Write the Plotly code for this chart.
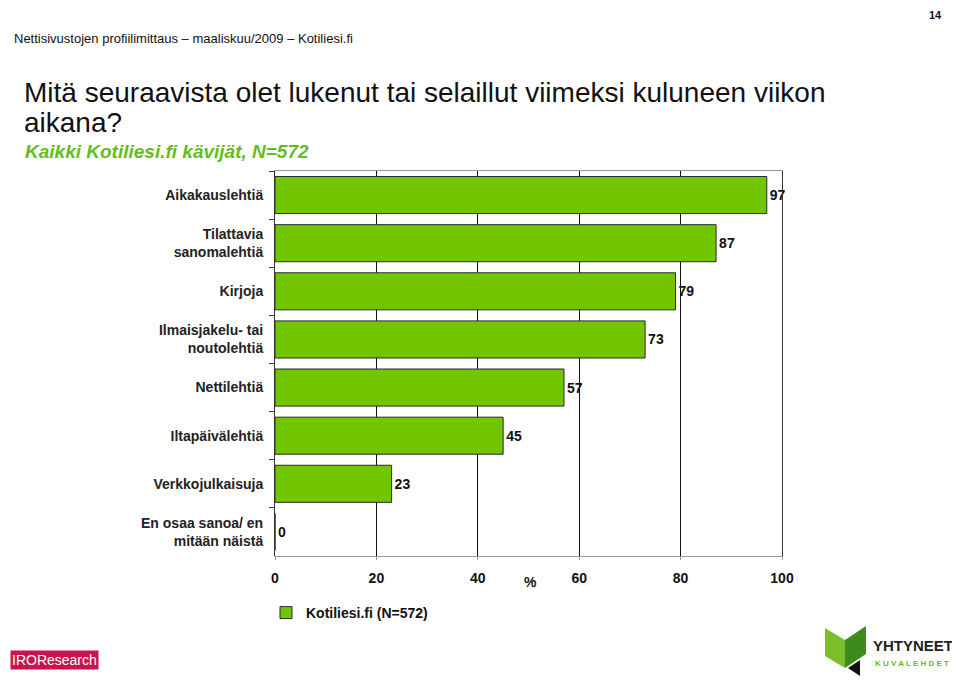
import plotly.graph_objects as go

categories = ['Aikakauslehtiä', 'Tilattavia<br>sanomalehtiä', 'Kirjoja',
              'Ilmaisjakelu- tai<br>noutolehtiä', 'Nettilehtiä',
              'Iltapäivälehtiä', 'Verkkojulkaisuja',
              'En osaa sanoa/ en<br>mitään näistä']
values = [97, 87, 79, 73, 57, 45, 23, 0]
series_name = 'Kotiliesi.fi (N=572)'
x_ticks = [0, 20, 40, 60, 80, 100]

FONT = 'Liberation Sans, Arial, sans-serif'
GREEN = '#72c600'

# page body has an 8px margin, so the figure is drawn 8px in from the corner
OFF = 8
W, H = 960 - OFF, 684 - OFF
# plot area in screen pixels
L, R, T, B = 275, 782, 171, 556


def px(x):
    return (x - L) / (R - L)


def py(y):
    return (B - y) / (B - T)


fig = go.Figure()
fig.add_trace(go.Bar(
    name='<b>%s</b>' % series_name,
    y=['<b>%s</b>' % c for c in categories],
    x=values,
    orientation='h',
    marker=dict(color=GREEN, line=dict(color='#2a2a2a', width=1)),
    text=['<b>%d</b>' % v for v in values],
    textposition='outside',
    textfont=dict(family=FONT, size=14, color='#111'),
    cliponaxis=False,
    showlegend=True,
))

fig.update_layout(
    width=W, height=H,
    margin=dict(l=L - OFF, r=W - (R - OFF), t=T - OFF, b=H - (B - OFF)),
    paper_bgcolor='white', plot_bgcolor='white',
    bargap=0.23,
    font=dict(family=FONT, color='#111'),
    legend=dict(x=px(266), y=py(613), xanchor='left', yanchor='middle',
                font=dict(family=FONT, size=14, color='#111'),
                itemwidth=30, bgcolor='rgba(0,0,0,0)'),
)
fig.update_xaxes(range=[0, 100], tickvals=x_ticks,
                 ticktext=['<b>%d</b>' % t for t in x_ticks],
                 tickfont=dict(family=FONT, size=14, color='#111'),
                 showgrid=True, gridcolor='#111', gridwidth=1,
                 zeroline=False, showline=True, linecolor='#999',
                 linewidth=1, mirror=True, ticks='outside', ticklen=3,
                 tickcolor='#999', ticklabelstandoff=6)
fig.update_yaxes(autorange='reversed', tickson='boundaries',
                 ticks='outside', ticklen=5, tickcolor='#333',
                 showgrid=False, showline=True, linecolor='#333',
                 linewidth=1, mirror=True,
                 tickfont=dict(family=FONT, size=14, color='#222'),
                 ticklabelstandoff=8)


def note(text, x, y, size, color='#111', xanchor='left', **kw):
    fig.add_annotation(text=text, x=px(x), y=py(y), xref='paper', yref='paper',
                       xanchor=xanchor, yanchor='middle', showarrow=False,
                       font=dict(family=FONT, size=size, color=color), **kw)


note('<b>%</b>', 530, 582, 14, xanchor='center')
note('<b>14</b>', 944, 15, 11, xanchor='right')
note('Nettisivustojen profiilimittaus – maaliskuu/2009 – Kotiliesi.fi',
     12, 38, 13)
note('Mitä seuraavista olet lukenut tai selaillut viimeksi kuluneen viikon',
     22, 93, 28)
note('aikana?', 22, 122, 28)
note('<b><i>Kaikki Kotiliesi.fi kävijät, N=572</i></b>', 23, 151, 19,
     color='#62bd1e')
note('IROResearch', 10, 660, 14, color='white', bgcolor='#c8144a',
     borderpad=1)
note('<b>YHTYNEET</b>', 871, 645, 15, color='#222')
note('<b>K U V A L E H D E T</b>', 873, 663, 8, color='#6fb80f')

# green book emblem of the publisher logo
fig.add_shape(type='path', xref='paper', yref='paper',
              path='M %f %f L %f %f L %f %f L %f %f Z' % (
                  px(825), py(628), px(845), py(640), px(845), py(668),
                  px(825), py(656)),
              fillcolor='#7bbd2a', line=dict(width=0))
fig.add_shape(type='path', xref='paper', yref='paper',
              path='M %f %f L %f %f L %f %f L %f %f Z' % (
                  px(845), py(640), px(866), py(626), px(866), py(654),
                  px(845), py(668)),
              fillcolor='#3f8a1c', line=dict(width=0))
fig.add_shape(type='path', xref='paper', yref='paper',
              path='M %f %f L %f %f L %f %f Z' % (
                  px(848), py(668), px(860), py(660), px(860), py(676)),
              fillcolor='#111', line=dict(width=0))

fig.write_html('out.html')
